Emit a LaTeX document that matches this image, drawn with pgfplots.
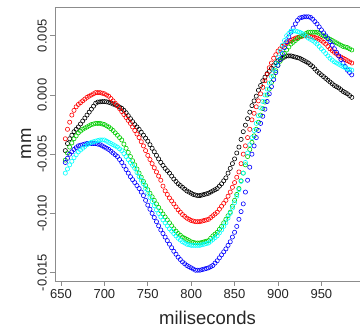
\documentclass[border=0pt]{standalone}
\usepackage{pgfplots}
\pgfplotsset{compat=1.18}
\usepackage{pgfplotstable}
\usepackage{fontspec}
\setmainfont{Liberation Sans}
\definecolor{rgreen}{RGB}{0,205,0}
\definecolor{rcyan}{RGB}{0,255,255}
\definecolor{axgray}{RGB}{140,140,140}
\pgfplotstableread{
x k r g b c
655 -0.0047 -0.0037 -0.0055 -0.0057 -0.0066
660 -0.0037 -0.0023 -0.0044 -0.0050 -0.0059
665 -0.0031 -0.0013 -0.0037 -0.0046 -0.0053
670 -0.0027 -0.0008 -0.0032 -0.0043 -0.0048
675 -0.0022 -0.0005 -0.0029 -0.0042 -0.0045
680 -0.0017 -0.0002 -0.0027 -0.0041 -0.0042
685 -0.0012 0.0000 -0.0025 -0.0041 -0.0040
690 -0.0007 0.0002 -0.0024 -0.0041 -0.0039
695 -0.00058 0.0002 -0.0024 -0.0042 -0.0038
700 -0.00056 0.0001 -0.0025 -0.0044 -0.0038
705 -0.00062 -0.0001 -0.0027 -0.0046 -0.0040
710 -0.00076 -0.0005 -0.0030 -0.0049 -0.0042
715 -0.00092 -0.0009 -0.0034 -0.0052 -0.0044
720 -0.00113 -0.0014 -0.0038 -0.0057 -0.0047
725 -0.0015 -0.0019 -0.0045 -0.0063 -0.0052
730 -0.0020 -0.0024 -0.0052 -0.0069 -0.0057
735 -0.0025 -0.0030 -0.0059 -0.0074 -0.0062
740 -0.0029 -0.0036 -0.0066 -0.0079 -0.0069
745 -0.0034 -0.0043 -0.0073 -0.0085 -0.0075
750 -0.0039 -0.0051 -0.0080 -0.0093 -0.0083
755 -0.0045 -0.0058 -0.0086 -0.0100 -0.0090
760 -0.0051 -0.0065 -0.0092 -0.0107 -0.0097
765 -0.0057 -0.0072 -0.0098 -0.0114 -0.0103
770 -0.0062 -0.0081 -0.0103 -0.0120 -0.0108
775 -0.0066 -0.0087 -0.0108 -0.0126 -0.0113
780 -0.0071 -0.0092 -0.0113 -0.0132 -0.0117
785 -0.0075 -0.0097 -0.0117 -0.0137 -0.0121
790 -0.0078 -0.0101 -0.0120 -0.0141 -0.0124
795 -0.0081 -0.0104 -0.0122 -0.0144 -0.0126
800 -0.0083 -0.0106 -0.0124 -0.0146 -0.0127
805 -0.00845 -0.0107 -0.0125 -0.0148 -0.0127
810 -0.0085 -0.0107 -0.0125 -0.0148 -0.0127
815 -0.0084 -0.0106 -0.0124 -0.0147 -0.0126
820 -0.0083 -0.0105 -0.0123 -0.0146 -0.0125
825 -0.0081 -0.0102 -0.0119 -0.0144 -0.0122
830 -0.0079 -0.0099 -0.0116 -0.0140 -0.0119
835 -0.0075 -0.0094 -0.0111 -0.0135 -0.0114
840 -0.0070 -0.0089 -0.0105 -0.0130 -0.0108
845 -0.0062 -0.0082 -0.0099 -0.0124 -0.0100
850 -0.0054 -0.0074 -0.0089 -0.0116 -0.0091
855 -0.0044 -0.0065 -0.0079 -0.0105 -0.0080
860 -0.0031 -0.0050 -0.0066 -0.0092 -0.0066
865 -0.0020 -0.0036 -0.0052 -0.0072 -0.0049
870 -0.0009 -0.0021 -0.0040 -0.0050 -0.0036
875 -0.0001 -0.0010 -0.0029 -0.0036 -0.0024
880 0.0008 0.0001 -0.0017 -0.0024 -0.0011
885 0.0015 0.0012 -0.0006 -0.0012 0.0000
890 0.0020 0.0023 0.0005 0.0001 0.0010
895 0.0025 0.0031 0.0016 0.0013 0.0021
900 0.0029 0.0037 0.0025 0.0025 0.0032
905 0.0031 0.0041 0.0032 0.0035 0.0042
910 0.0033 0.0044 0.0038 0.0045 0.0050
915 0.0033 0.0046 0.0043 0.0053 0.0054
920 0.0032 0.0048 0.0046 0.0060 0.0054
925 0.0031 0.0049 0.0049 0.0065 0.0053
930 0.0029 0.0050 0.0051 0.0066 0.0051
935 0.0027 0.0050 0.0053 0.0066 0.0048
940 0.0024 0.0049 0.0053 0.0064 0.0046
945 0.0020 0.0048 0.0053 0.0060 0.0043
950 0.0017 0.0046 0.0051 0.0055 0.0039
955 0.0014 0.0043 0.0049 0.0050 0.0035
960 0.0011 0.0039 0.0047 0.0045 0.0031
965 0.0008 0.0036 0.0045 0.0039 0.0028
970 0.0006 0.0033 0.0043 0.0033 0.0026
975 0.0003 0.0031 0.0041 0.0027 0.0024
980 0.0001 0.0029 0.0040 0.0021 0.0022
985 -0.0002 0.0027 0.0038 0.0017 0.0021
657.5 -0.0041 -0.0029 -0.0049 -0.00535 -0.00625
662.5 -0.0034 -0.0017 -0.00405 -0.0048 -0.0056
667.5 -0.0029 -0.0010 -0.00345 -0.00445 -0.00505
672.5 -0.00245 -0.00065 -0.00305 -0.00425 -0.00465
677.5 -0.00195 -0.00035 -0.0028 -0.00415 -0.00435
682.5 -0.00145 -0.0001 -0.0026 -0.0041 -0.0041
687.5 -0.00095 0.0001 -0.00245 -0.0041 -0.00395
692.5 -0.0006 0.0002 -0.0024 -0.00415 -0.00385
697.5 -0.00056 0.00015 -0.00245 -0.0043 -0.0038
702.5 -0.00058 0.0000 -0.0026 -0.0045 -0.0039
707.5 -0.00068 -0.0003 -0.00285 -0.00475 -0.0041
712.5 -0.00084 -0.0007 -0.0032 -0.00505 -0.0043
717.5 -0.00102 -0.00115 -0.0036 -0.00545 -0.00455
722.5 -0.0013 -0.00165 -0.00415 -0.0060 -0.00495
727.5 -0.00175 -0.00215 -0.00485 -0.0066 -0.00545
732.5 -0.00225 -0.0027 -0.00555 -0.00715 -0.00595
737.5 -0.0027 -0.0033 -0.00625 -0.00765 -0.00655
742.5 -0.00315 -0.00395 -0.00695 -0.0082 -0.0072
747.5 -0.00365 -0.0047 -0.00765 -0.0089 -0.0079
752.5 -0.0042 -0.00545 -0.0083 -0.00965 -0.00865
757.5 -0.0048 -0.00615 -0.0089 -0.01035 -0.00935
762.5 -0.0054 -0.00685 -0.0095 -0.01105 -0.0100
767.5 -0.00595 -0.0077 -0.01005 -0.0117 -0.01055
772.5 -0.0064 -0.0084 -0.01055 -0.0123 -0.01105
777.5 -0.00685 -0.00895 -0.01105 -0.0129 -0.0115
782.5 -0.0073 -0.00945 -0.0115 -0.01345 -0.0119
787.5 -0.00765 -0.0099 -0.01185 -0.0139 -0.01225
792.5 -0.00795 -0.01025 -0.0121 -0.01425 -0.0125
797.5 -0.0082 -0.0105 -0.0123 -0.0145 -0.01265
802.5 -0.0084 -0.01065 -0.01245 -0.0147 -0.0127
807.5 -0.0085 -0.0107 -0.0125 -0.0148 -0.0127
812.5 -0.00845 -0.01065 -0.01245 -0.01475 -0.01265
817.5 -0.00835 -0.01055 -0.01235 -0.01465 -0.01255
822.5 -0.0082 -0.01035 -0.0121 -0.0145 -0.01235
827.5 -0.0080 -0.01005 -0.01175 -0.0142 -0.01205
832.5 -0.0077 -0.00965 -0.01135 -0.01375 -0.01165
837.5 -0.00725 -0.00915 -0.0108 -0.01325 -0.0111
842.5 -0.0066 -0.00855 -0.0102 -0.0127 -0.0104
847.5 -0.0058 -0.0078 -0.0094 -0.0120 -0.00955
852.5 -0.0049 -0.00695 -0.0084 -0.0111 -0.00855
857.5 -0.00375 -0.0058 -0.00725 -0.00985 -0.0073
862.5 -0.00255 -0.0043 -0.0059 -0.0082 -0.0057
867.5 -0.00145 -0.0029 -0.0046 -0.0061 -0.0042
872.5 -0.0005 -0.00155 -0.00345 -0.0043 -0.0030
877.5 0.0004 -0.0005 -0.0023 -0.0030 -0.00175
882.5 0.0012 0.00065 -0.00115 -0.0018 -0.00055
887.5 0.0018 0.00175 0.0000 -0.00055 0.0005
892.5 0.00225 0.0027 0.00105 0.0007 0.00155
897.5 0.0027 0.0034 0.00205 0.0019 0.00265
902.5 0.0030 0.0039 0.00285 0.0030 0.0037
907.5 0.0032 0.00425 0.0035 0.0040 0.0046
912.5 0.0033 0.0045 0.00405 0.0049 0.0052
917.5 0.00325 0.0047 0.00445 0.00565 0.0054
922.5 0.00315 0.00485 0.00475 0.0063 0.00535
927.5 0.0030 0.00495 0.0050 0.00655 0.0052
932.5 0.0028 0.0050 0.0052 0.0066 0.00495
937.5 0.00255 0.00495 0.0053 0.00655 0.0047
942.5 0.0022 0.00485 0.0053 0.0062 0.00445
947.5 0.00185 0.0047 0.0052 0.00575 0.0041
952.5 0.00155 0.00445 0.0050 0.00525 0.0037
957.5 0.00125 0.0041 0.0048 0.00475 0.0033
962.5 0.00095 0.00375 0.0046 0.0042 0.00295
967.5 0.0007 0.00345 0.0044 0.0036 0.0027
972.5 0.00045 0.0032 0.0042 0.0030 0.0025
977.5 0.0002 0.0030 0.00405 0.0024 0.0023
982.5 -0.00005 0.0028 0.0039 0.0019 0.00215
}\data
\begin{document}
\begin{tikzpicture}
\useasboundingbox (0,0) rectangle (360pt,328pt);
\begin{axis}[
  at={(55pt,47pt)}, anchor=south west,
  scale only axis, width=305pt, height=274pt,
  xmin=643.1, xmax=994.5, ymin=-0.01571, ymax=0.00743,
  axis x line*=box, axis y line*=left,
  axis line style={axgray, line width=0.9pt},
  every tick/.style={axgray, line width=0.9pt},
  tick align=outside, major tick length=5pt,
  xtick={650,700,750,800,850,900,950},
  ytick={-0.015,-0.010,-0.005,0,0.005},
  yticklabels={-0.015,-0.010,-0.005,0.000,0.005},
  /pgf/number format/assume math mode=true,
  xtick pos=bottom, ytick pos=left,
  ticklabel style={font=\fontsize{13}{15}\selectfont, text=black!85},
  xticklabel style={anchor=north, inner sep=0pt},
  yticklabel style={rotate=90, anchor=south, inner sep=0pt},
  xticklabel shift=3pt, yticklabel shift=3pt,
  scaled y ticks=false,
  clip=false,
]
\addplot[only marks, mark=o, mark size=2.1pt, draw=black, mark options={line width=0.6pt}] table[x=x,y=k] {\data};
\addplot[only marks, mark=o, mark size=2.1pt, draw=red, mark options={line width=0.6pt}] table[x=x,y=r] {\data};
\addplot[only marks, mark=o, mark size=2.1pt, draw=rgreen, mark options={line width=0.6pt}] table[x=x,y=g] {\data};
\addplot[only marks, mark=o, mark size=2.1pt, draw=blue, mark options={line width=0.6pt}] table[x=x,y=b] {\data};
\addplot[only marks, mark=o, mark size=2.1pt, draw=rcyan, mark options={line width=0.6pt}] table[x=x,y=c] {\data};
\end{axis}
\node[anchor=base, font=\fontsize{18.5}{20}\selectfont, text=black!85] at (207.5pt,3pt) {miliseconds};
\node[rotate=90, anchor=base, font=\fontsize{18.5}{20}\selectfont, text=black!85] at (31pt,184pt) {mm};
\end{tikzpicture}
\end{document}
